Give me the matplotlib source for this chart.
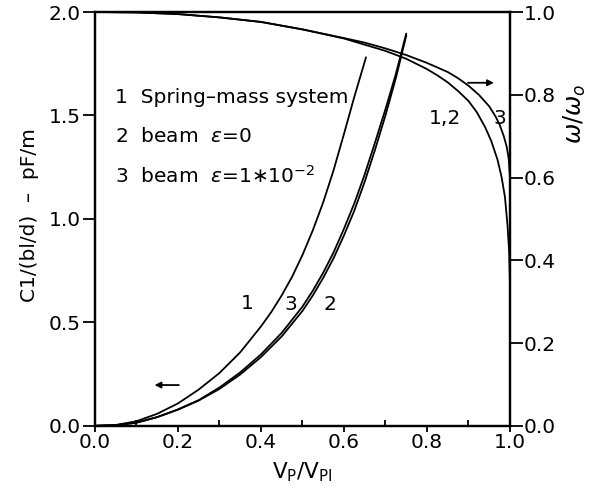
import numpy as np
import matplotlib.pyplot as plt
from matplotlib.ticker import MultipleLocator

# C1/(bl/d) curves (left axis)
x_c1 = [0, 0.05, 0.1, 0.15, 0.2, 0.25, 0.3, 0.35, 0.4, 0.425, 0.45, 0.475, 0.5,
        0.525, 0.55, 0.575, 0.6, 0.625, 0.653]
c_spring = [0, 0.004, 0.022, 0.058, 0.108, 0.175, 0.255, 0.355, 0.48, 0.55, 0.63, 0.72, 0.825,
            0.945, 1.08, 1.235, 1.41, 1.59, 1.78]

x_c2 = [0, 0.05, 0.1, 0.15, 0.2, 0.25, 0.3, 0.35, 0.4, 0.45, 0.5, 0.525, 0.55,
        0.575, 0.6, 0.625, 0.65, 0.675, 0.7, 0.725, 0.75]
c_beam0 = [0, 0.003, 0.015, 0.042, 0.078, 0.122, 0.178, 0.248, 0.332, 0.432, 0.555, 0.63, 0.715,
           0.81, 0.92, 1.04, 1.18, 1.335, 1.5, 1.68, 1.885]
c_beam1 = [0, 0.003, 0.015, 0.042, 0.079, 0.124, 0.185, 0.258, 0.345, 0.449, 0.576, 0.653, 0.74,
           0.838, 0.952, 1.075, 1.215, 1.37, 1.53, 1.70, 1.895]

# omega/omega0 curves (right axis)
x_w12 = [0, 0.1, 0.2, 0.3, 0.4, 0.5, 0.6, 0.7, 0.75, 0.8, 0.825, 0.85, 0.875, 0.9, 0.92,
         0.94, 0.955, 0.97, 0.98, 0.988, 0.994, 0.998, 1.0]
w_12 = [1.0, 0.999, 0.995, 0.987, 0.976, 0.958, 0.936, 0.906, 0.887, 0.862, 0.847, 0.83, 0.809,
        0.785, 0.758, 0.722, 0.688, 0.643, 0.6, 0.552, 0.485, 0.42, 0.34]
x_w3 = [0, 0.1, 0.2, 0.3, 0.4, 0.5, 0.6, 0.65, 0.7, 0.75, 0.8, 0.85, 0.875, 0.9, 0.925,
        0.95, 0.965, 0.975, 0.985, 0.992, 0.997, 1.0]
w_3 = [1.0, 0.999, 0.995, 0.987, 0.976, 0.958, 0.937, 0.926, 0.912, 0.896, 0.877, 0.855, 0.84,
       0.822, 0.80, 0.772, 0.748, 0.728, 0.70, 0.675, 0.645, 0.60]

plt.rcParams['font.family'] = 'DejaVu Sans'
plt.rcParams['mathtext.fontset'] = 'dejavusans'

fig = plt.figure(figsize=(5.93, 4.9), dpi=100)
ax = fig.add_axes([0.160, 0.131, 0.700, 0.8445])
ax2 = ax.twinx()

lw = 1.3
ax.plot(x_c1, c_spring, color='black', lw=lw)
ax.plot(x_c2, c_beam0, color='black', lw=lw)
ax.plot(x_c2, c_beam1, color='black', lw=lw)
ax2.plot(x_w12, w_12, color='black', lw=lw)
ax2.plot(x_w3, w_3, color='black', lw=lw)

ax.set_xlim(0, 1)
ax.set_ylim(0, 2)
ax2.set_ylim(0, 1)

fs = 14.5
ax.xaxis.set_major_locator(MultipleLocator(0.2))
ax.xaxis.set_minor_locator(MultipleLocator(0.1))
ax.yaxis.set_major_locator(MultipleLocator(0.5))
ax2.yaxis.set_major_locator(MultipleLocator(0.2))
ax.tick_params(axis='x', which='major', direction='out', length=4, width=1.3, labelsize=fs, pad=1)
ax.tick_params(axis='x', which='minor', direction='in', length=4, width=1.3)
ax.tick_params(axis='y', which='major', direction='out', length=9, width=1.3, labelsize=fs, pad=1)
ax2.tick_params(axis='y', which='major', direction='out', length=9, width=1.3, labelsize=fs, pad=1)
ax.xaxis.set_major_formatter(lambda v, p: f"{v:.1f}")
ax.yaxis.set_major_formatter(lambda v, p: f"{v:.1f}")
ax2.yaxis.set_major_formatter(lambda v, p: f"{v:.1f}")

for a in (ax, ax2):
    for s in a.spines.values():
        s.set_linewidth(1.6)

ax.set_xlabel(r"$\mathregular{V_P/V_{PI}}$", fontsize=fs + 1, labelpad=6)
ax.set_ylabel("C1/(bl/d)  \u2013  pF/m", fontsize=fs)
ax.yaxis.set_label_coords(-0.135, 0.51)
ax2.set_ylabel(r"$\omega/\omega_o$", fontsize=fs + 3, rotation=90)
ax2.yaxis.set_label_coords(1.125, 0.755)

# legend text
tx = 0.048
ax.text(tx, 1.589, "1  Spring\u2013mass system", fontsize=fs, va='center')
ax.text(tx, 1.40, "2  beam  $\\epsilon$=0", fontsize=fs, va='center')
ax.text(tx, 1.21, "3  beam  $\\epsilon$=1$\\ast$10$^{-2}$", fontsize=fs, va='center')

# curve labels
ax.text(0.366, 0.59, "1", fontsize=fs, ha='center', va='center')
ax.text(0.472, 0.585, "3", fontsize=fs, ha='center', va='center')
ax.text(0.566, 0.585, "2", fontsize=fs, ha='center', va='center')
ax.text(0.843, 1.485, "1,2", fontsize=fs, ha='center', va='center')
ax.text(0.976, 1.485, "3", fontsize=fs, ha='center', va='center')

# arrows showing which axis
ax.annotate("", xy=(0.137, 0.197), xytext=(0.209, 0.197),
            arrowprops=dict(arrowstyle='-|>', color='black', lw=1.3, mutation_scale=9))
ax.annotate("", xy=(0.968, 1.658), xytext=(0.892, 1.658),
            arrowprops=dict(arrowstyle='-|>', color='black', lw=1.3, mutation_scale=9))

fig.savefig("out.png", dpi=100)
